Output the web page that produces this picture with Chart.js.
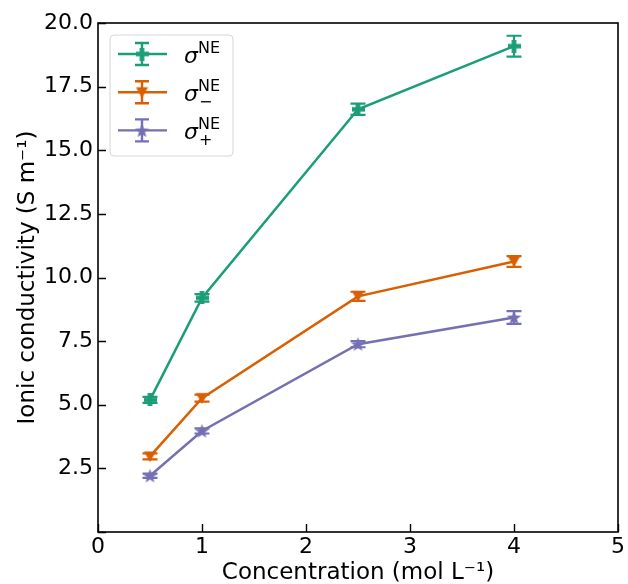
<!DOCTYPE html>
<html>
<head>
<meta charset="utf-8">
<script src="https://cdn.jsdelivr.net/npm/chart.js@4.4.1/dist/chart.umd.min.js"></script>
<style>
  html, body { margin: 0; padding: 0; background: #fff; }
  canvas { display: block; }
</style>
</head>
<body>
<canvas id="chart" width="628" height="584"></canvas>
<script>
// concentration (mol/L) and conductivities (S/m) with their error bars
const concentration = [0.5, 1, 2.5, 4];
const sigmaTotal    = [5.19, 9.20, 16.61, 19.09];
const sigmaTotalErr = [0.12, 0.15, 0.22, 0.41];
const sigmaMinus    = [2.97, 5.26, 9.26, 10.63];
const sigmaMinusErr = [0.12, 0.14, 0.18, 0.21];
const sigmaPlus     = [2.21, 3.97, 7.38, 8.43];
const sigmaPlusErr  = [0.08, 0.10, 0.12, 0.25];

const xTicks = [0, 1, 2, 3, 4, 5];
const yTicks = [0, 2.5, 5, 7.5, 10, 12.5, 15, 17.5, 20];

const FONT = 'DejaVu Sans';

// Dark2 colours
const SERIES = [
  { key: 'total', y: sigmaTotal, err: sigmaTotalErr, color: '#1b9e77', marker: 'plus', sub: '' },
  { key: 'minus', y: sigmaMinus, err: sigmaMinusErr, color: '#d95f02', marker: 'tri',  sub: '\u2212' },
  { key: 'plus',  y: sigmaPlus,  err: sigmaPlusErr,  color: '#7570b3', marker: 'star', sub: '+' }
];

/* small offscreen canvases used as point styles */
function makeMarker (shape, color, size) {
  const c = document.createElement('canvas');
  c.width = c.height = size;
  const g = c.getContext('2d');
  const s = size, h = s / 2;
  g.fillStyle = color;
  g.beginPath();
  if (shape === 'plus') {
    const t = s * 0.36, a = (s - t) / 2;
    g.rect(a, 0, t, s);
    g.rect(0, a, s, t);
  } else if (shape === 'tri') {
    g.moveTo(0.5, s * 0.12);
    g.lineTo(s - 0.5, s * 0.12);
    g.lineTo(h, s * 0.95);
    g.closePath();
  } else {
    for (let i = 0; i < 10; i++) {
      const r = i % 2 ? h * 0.42 : h;
      const ang = -Math.PI / 2 + i * Math.PI / 5;
      const px = h + r * Math.cos(ang), py = h + 0.6 + r * Math.sin(ang);
      i ? g.lineTo(px, py) : g.moveTo(px, py);
    }
    g.closePath();
  }
  g.fill();
  return c;
}

SERIES.forEach(s => {
  s.size  = s.marker === 'star' ? 15 : 13;
  s.image = makeMarker(s.marker, s.color, s.size);
});

/* vertical error bars with caps */
const errorBars = {
  id: 'errorBars',
  afterDatasetsDraw (chart) {
    const { ctx, scales: { x, y } } = chart;
    ctx.save();
    ctx.lineWidth = 2.2;
    SERIES.forEach(s => {
      ctx.strokeStyle = s.color;
      concentration.forEach((c, i) => {
        const px  = x.getPixelForValue(c);
        const top = y.getPixelForValue(s.y[i] + s.err[i]);
        const bot = y.getPixelForValue(s.y[i] - s.err[i]);
        ctx.beginPath();
        ctx.moveTo(px, top); ctx.lineTo(px, bot);
        ctx.moveTo(px - 7.5, top); ctx.lineTo(px + 7.5, top);
        ctx.moveTo(px - 7.5, bot); ctx.lineTo(px + 7.5, bot);
        ctx.stroke();
      });
    });
    ctx.restore();
  }
};

/* box frame and inward tick marks */
const frame = {
  id: 'frame',
  afterDatasetsDraw (chart) {
    const { ctx, chartArea: a, scales: { x, y } } = chart;
    ctx.save();
    ctx.strokeStyle = '#000';
    ctx.lineWidth = 1.6;
    ctx.strokeRect(a.left, a.top, a.right - a.left, a.bottom - a.top);
    ctx.lineWidth = 1.4;
    ctx.beginPath();
    x.ticks.forEach(t => {
      const px = Math.round(x.getPixelForValue(t.value)) + 0.5;
      ctx.moveTo(px, a.bottom); ctx.lineTo(px, a.bottom - 8);
    });
    y.ticks.forEach(t => {
      const py = Math.round(y.getPixelForValue(t.value)) + 0.5;
      ctx.moveTo(a.left, py); ctx.lineTo(a.left + 8, py);
    });
    ctx.stroke();
    ctx.restore();
  }
};

/* legend: line + errorbar + marker, then sigma with super/subscripts */
const legendBox = {
  id: 'legendBox',
  afterDraw (chart) {
    const ctx = chart.ctx;
    const bx = 110, by = 35, bw = 123, bh = 121, r = 4;
    ctx.save();
    ctx.beginPath();
    ctx.roundRect(bx, by, bw, bh, r);
    ctx.fillStyle = 'rgba(255,255,255,0.8)';
    ctx.fill();
    ctx.strokeStyle = '#d6d6d6';
    ctx.lineWidth = 1;
    ctx.stroke();

    SERIES.forEach((s, i) => {
      const cy = 54 + i * 38.2;
      ctx.strokeStyle = s.color;
      ctx.lineWidth = 2.4;
      ctx.beginPath();
      ctx.moveTo(118, cy); ctx.lineTo(167, cy);
      ctx.moveTo(142, cy - 11); ctx.lineTo(142, cy + 11);
      ctx.moveTo(135, cy - 11); ctx.lineTo(149, cy - 11);
      ctx.moveTo(135, cy + 11); ctx.lineTo(149, cy + 11);
      ctx.stroke();
      ctx.drawImage(s.image, 142 - s.size / 2, cy - s.size / 2);

      const base = cy + 9;
      ctx.fillStyle = '#000';
      ctx.textBaseline = 'alphabetic';
      ctx.textAlign = 'left';
      ctx.font = `oblique 22px "${FONT}"`;
      ctx.fillText('\u03c3', 184, base);
      ctx.font = `16px "${FONT}"`;
      ctx.fillText('NE', 198, base - 10);
      if (s.sub) ctx.fillText(s.sub, 199, base + 6);
    });
    ctx.restore();
  }
};

new Chart(document.getElementById('chart'), {
  type: 'line',
  data: {
    datasets: SERIES.map(s => ({
      label: s.key,
      data: concentration.map((c, i) => ({ x: c, y: s.y[i] })),
      borderColor: s.color,
      backgroundColor: s.color,
      borderWidth: 2.5,
      pointStyle: s.image,
      pointRadius: s.size / 2,
      tension: 0
    }))
  },
  options: {
    responsive: false,
    animation: false,
    layout: { padding: { top: 23, right: 8, left: 0, bottom: 0 } },
    plugins: { legend: { display: false }, tooltip: { enabled: false } },
    scales: {
      x: {
        type: 'linear',
        min: xTicks[0],
        max: xTicks[xTicks.length - 1],
        afterFit: sc => { sc.height = 52; },
        afterBuildTicks: sc => { sc.ticks = xTicks.map(v => ({ value: v })); },
        grid: { display: false, drawTicks: false },
        border: { display: false },
        ticks: { font: { family: FONT, size: 22 }, color: '#000', padding: 2, maxRotation: 0,
                 callback: v => String(v) },
        title: { display: true, text: 'Concentration (mol L\u207b\u00b9)', color: '#000',
                 font: { family: FONT, size: 23 }, padding: { top: 0, bottom: -3 } }
      },
      y: {
        type: 'linear',
        min: yTicks[0],
        max: yTicks[yTicks.length - 1],
        afterFit: sc => { sc.width = 98; },
        afterBuildTicks: sc => { sc.ticks = yTicks.map(v => ({ value: v })); },
        grid: { display: false, drawTicks: false },
        border: { display: false },
        ticks: { font: { family: FONT, size: 22 }, color: '#000', padding: 5,
                 callback: v => (v === 0 ? '' : v.toFixed(1)) },
        title: { display: true, text: 'Ionic conductivity (S m\u207b\u00b9)', color: '#000',
                 font: { family: FONT, size: 23 }, padding: { top: 14, bottom: 0 } }
      }
    }
  },
  plugins: [errorBars, frame, legendBox]
});
</script>
</body>
</html>
